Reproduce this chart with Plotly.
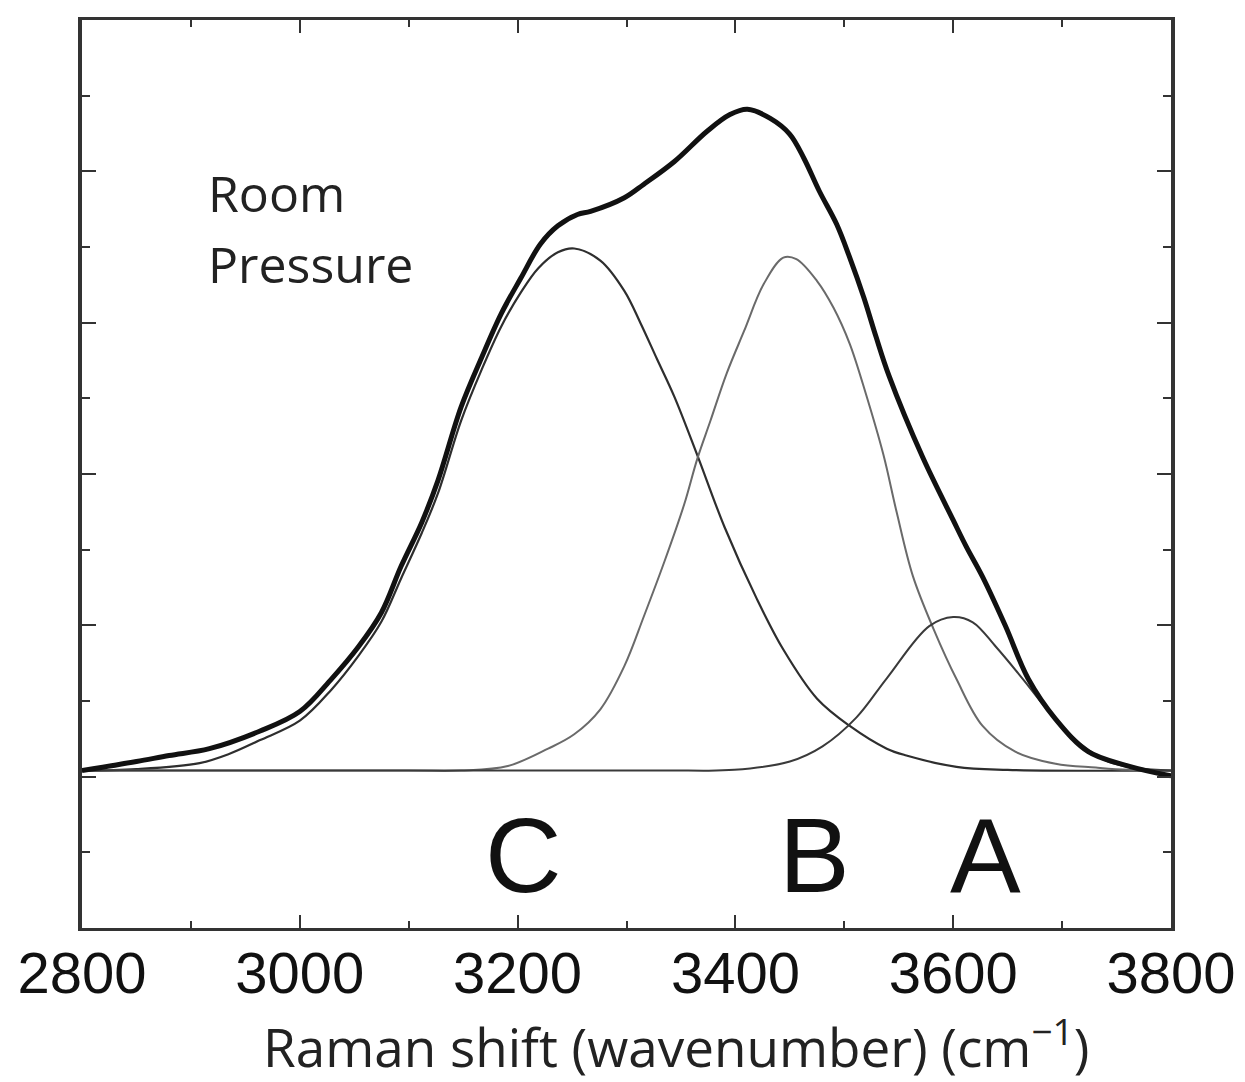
import plotly.graph_objects as go

# ---- data ----
total_x = [2800, 2850, 2880, 2917, 2963, 3000, 3029, 3054, 3075, 3093, 3112, 3127, 3148, 3167,
           3185, 3203, 3221, 3237, 3255, 3267, 3298, 3316, 3344, 3374, 3395, 3411, 3432, 3450,
           3463, 3477, 3493, 3505, 3518, 3529, 3541, 3572, 3600, 3612, 3627, 3648, 3669, 3694,
           3724, 3761, 3800]
total_y = [0.08, 0.20, 0.28, 0.37, 0.60, 0.86, 1.29, 1.72, 2.17, 2.78, 3.36, 3.92, 4.88, 5.54,
           6.12, 6.59, 7.04, 7.28, 7.43, 7.47, 7.65, 7.83, 8.13, 8.53, 8.75, 8.82, 8.70, 8.49,
           8.17, 7.74, 7.30, 6.86, 6.33, 5.82, 5.30, 4.22, 3.39, 3.04, 2.64, 1.99, 1.29, 0.76,
           0.33, 0.14, 0.01]

c_x = [2800, 2850, 2908, 2935, 2963, 3000, 3029, 3054, 3075, 3093, 3112, 3127, 3148, 3167, 3185,
       3203, 3219, 3237, 3252, 3276, 3298, 3313, 3328, 3344, 3365, 3390, 3420, 3444, 3475,
       3505, 3539, 3557, 3603, 3650, 3800]
c_y = [0.08, 0.10, 0.18, 0.30, 0.48, 0.74, 1.15, 1.60, 2.05, 2.62, 3.22, 3.75, 4.70, 5.38, 5.95,
       6.40, 6.72, 6.93, 6.98, 6.82, 6.42, 5.99, 5.52, 5.02, 4.25, 3.30, 2.34, 1.68, 1.03,
       0.67, 0.37, 0.28, 0.13, 0.09, 0.08]

b_x = [2800, 3100, 3148, 3191, 3228, 3252, 3276, 3298, 3316, 3335, 3353, 3365, 3377, 3392, 3408,
       3426, 3444, 3456, 3475, 3490, 3505, 3520, 3536, 3548, 3563, 3582, 3603, 3627, 3657, 3694,
       3731, 3760, 3800]
b_y = [0.08, 0.08, 0.08, 0.14, 0.37, 0.56, 0.89, 1.46, 2.12, 2.85, 3.60, 4.20, 4.70, 5.33, 5.89,
       6.51, 6.86, 6.84, 6.55, 6.20, 5.72, 5.05, 4.25, 3.50, 2.65, 1.95, 1.29, 0.67, 0.33, 0.17,
       0.12, 0.09, 0.08]

a_x = [2800, 3350, 3399, 3450, 3480, 3511, 3539, 3578, 3600, 3618, 3639, 3664, 3688, 3719, 3742,
       3770, 3800]
a_y = [0.08, 0.08, 0.09, 0.20, 0.40, 0.78, 1.30, 1.99, 2.11, 2.04, 1.72, 1.29, 0.86, 0.41, 0.20,
       0.11, 0.08]

x_ticks = [2800, 3000, 3200, 3400, 3600, 3800]
band_labels = ["C", "B", "A"]
band_pos = [3205, 3473, 3630]

fig = go.Figure()
for xs, ys, col, w in [(c_x, c_y, "#2e2e2e", 2.2), (b_x, b_y, "#6a6a6a", 2.0),
                       (a_x, a_y, "#3a3a3a", 2.0)]:
    fig.add_trace(go.Scatter(x=xs, y=ys, mode="lines",
                             line=dict(color=col, width=w, shape="spline", smoothing=1.0),
                             showlegend=False, hoverinfo="skip"))
fig.add_trace(go.Scatter(x=total_x, y=total_y, mode="lines",
                         line=dict(color="#111111", width=5, shape="spline", smoothing=1.0),
                         showlegend=False, hoverinfo="skip"))

for lab, xp in zip(band_labels, band_pos):
    fig.add_annotation(x=xp, y=-1.04, text=lab, showarrow=False, xanchor="center",
                       yanchor="middle",
                       font=dict(family="Liberation Sans, Arial", size=106, color="#111111"))

fig.add_annotation(x=2914, y=7.71, text="Room", showarrow=False, xanchor="left",
                   yanchor="middle", font=dict(family="Open Sans", size=50, color="#222222"))
fig.add_annotation(x=2914, y=6.78, text="Pressure", showarrow=False, xanchor="left",
                   yanchor="middle", font=dict(family="Open Sans", size=50, color="#222222"))

fig.add_annotation(xref="paper", yref="paper", x=0.545, y=-0.128,
                   text="Raman shift (wavenumber) (cm<sup>−1</sup>)", showarrow=False,
                   xanchor="center", yanchor="middle",
                   font=dict(family="Open Sans", size=53, color="#222222"))

fig.update_layout(
    width=1237, height=1074,
    margin=dict(l=74, r=69, t=9, b=154),
    paper_bgcolor="white", plot_bgcolor="white",
    xaxis=dict(range=[2800, 3800], tickvals=x_ticks, ticktext=[str(v) for v in x_ticks],
               ticks="inside", ticklen=13, tickwidth=2, tickcolor="#333333",
               minor=dict(dtick=100, ticks="inside", ticklen=7, tickwidth=2,
                          tickcolor="#333333", showgrid=False),
               showline=True, linecolor="#333333", linewidth=3, mirror="ticks",
               showgrid=False, zeroline=False, ticklabelstandoff=-8,
               tickfont=dict(family="Liberation Sans, Arial", size=58, color="#111111")),
    yaxis=dict(range=[-2, 10], dtick=2, tick0=0, ticks="inside", ticklen=14, tickwidth=2,
               tickcolor="#333333",
               minor=dict(dtick=1, ticks="inside", ticklen=8, tickwidth=2,
                          tickcolor="#333333", showgrid=False),
               showticklabels=False, showline=True, linecolor="#333333", linewidth=3.5,
               mirror="ticks", showgrid=False, zeroline=False),
)

fig.write_html("out.html")
